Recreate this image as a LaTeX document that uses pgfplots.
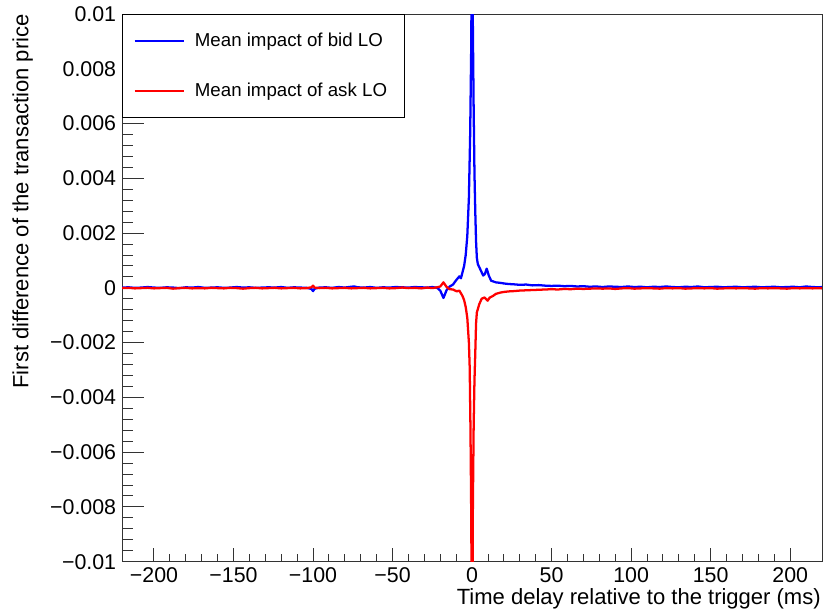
\documentclass[border=0pt]{standalone}
\usepackage{pgfplots}
\pgfplotsset{compat=1.18}
\usepackage{fontspec}
\setmainfont{Liberation Sans}

\begin{document}
\begin{tikzpicture}
\begin{axis}[
    scale only axis,
    width=524.25pt, height=410.25pt,
    xmin=-220, xmax=220,
    ymin=-0.01, ymax=0.01,
    xtick={-200,-150,-100,-50,0,50,100,150,200},
    xticklabels={−200,−150,−100,−50,0,50,100,150,200},
    ytick={-0.01,-0.008,-0.006,-0.004,-0.002,0,0.002,0.004,0.006,0.008,0.01},
    yticklabels={−0.01,−0.008,−0.006,−0.004,−0.002,0,0.002,0.004,0.006,0.008,0.01},
    scaled y ticks=false,
    minor x tick num=4,
    minor y tick num=4,
    tick align=inside,
    xtick pos=bottom, ytick pos=left,
    major tick length=16.5pt, minor tick length=8pt,
    xtick style={/pgfplots/major tick length=10.5pt, /pgfplots/minor tick length=6pt},
    axis line style={line width=0.7pt, black!80},
    every tick/.style={line width=0.7pt, black!80},
    tick label style={font=\fontsize{16}{19}\selectfont},
    /pgf/number format/assume math mode=true,
    xticklabel style={yshift=-1pt},
    yticklabel style={xshift=-1pt},
    xlabel={Time delay relative to the trigger (ms)},
    ylabel={First difference of the transaction price},
    xlabel style={at={(axis description cs:0.9986,-0.049)}, anchor=north east, inner sep=0pt, font=\fontsize{16.5}{19}\selectfont},
    ylabel style={at={(axis description cs:-0.157,1)}, anchor=north east, inner sep=0pt, font=\fontsize{16.5}{19}\selectfont},
    legend cell align=left,
    legend image code/.code={\draw[#1] (0pt,0pt) -- (36.75pt,0pt);},
    legend style={at={(0,1)}, anchor=north west, draw=black, line width=0.6pt, fill=white,
        inner xsep=8.25pt, inner ysep=14pt, row sep=26pt,
        font=\fontsize{14}{16}\selectfont,
        nodes={inner sep=0pt},
        /tikz/every odd column/.append style={column sep=7.5pt}},
    clip=true,
]

% --- bid LO ---
\addplot[blue, line width=1.7pt, line join=round] coordinates {
(-220,1e-5) (-216,2e-5) (-212,0) (-208,1e-5) (-204,3e-5) (-200,1e-5) (-196,0) (-192,2e-5)
(-188,1e-5) (-184,-1e-5) (-180,2e-5) (-176,1e-5) (-172,3e-5) (-168,0) (-164,1e-5) (-160,2e-5)
(-156,0) (-152,1e-5) (-148,3e-5) (-144,1e-5) (-140,2e-5) (-136,0) (-132,1e-5) (-128,2e-5)
(-124,1e-5) (-120,3e-5) (-116,0) (-112,2e-5) (-108,1e-5) (-104,0) (-101,-4e-5) (-100,-12e-5)
(-99,-3e-5) (-96,1e-5) (-92,2e-5) (-88,0) (-84,3e-5) (-80,1e-5) (-76,4e-5) (-74,5e-5)
(-72,2e-5) (-68,1e-5) (-64,3e-5) (-60,0) (-56,2e-5) (-52,1e-5) (-48,3e-5) (-44,2e-5)
(-40,1e-5) (-36,3e-5) (-32,2e-5) (-28,1e-5) (-25,3e-5) (-22,0) (-20,-10e-5) (-18,-37e-5)
(-16,-8e-5) (-14,5e-5) (-12,12e-5) (-10,28e-5) (-8,42e-5) (-7,35e-5) (-5,80e-5) (-4,0.0012)
(-3,0.0019) (-2,0.0033) (-1.2,0.0056) (-0.5,0.009) (0,0.015) (0.5,0.0095) (1,0.0065) (1.5,0.0042)
(2,0.0028) (2.5,0.0017) (3,0.0011) (3.6,87e-5) (5.6,62e-5) (7,45e-5) (8,50e-5) (9.2,70e-5)
(10.5,45e-5) (12,26e-5) (15,20e-5) (18,18e-5) (20,16e-5) (23,14e-5) (26,13e-5) (30,11e-5)
(34,12e-5) (38,9e-5) (42,10e-5) (46,8e-5) (50,7e-5) (54,8e-5) (58,6e-5) (62,7e-5)
(66,5e-5) (70,6e-5) (74,4e-5) (78,5e-5) (82,3e-5) (86,5e-5) (90,4e-5) (94,3e-5)
(98,5e-5) (102,3e-5) (106,4e-5) (110,2e-5) (114,4e-5) (118,3e-5) (122,5e-5) (126,3e-5)
(130,2e-5) (134,4e-5) (138,3e-5) (142,5e-5) (146,2e-5) (150,3e-5) (154,4e-5) (158,2e-5)
(162,3e-5) (166,4e-5) (170,2e-5) (174,3e-5) (178,4e-5) (182,2e-5) (186,3e-5) (190,4e-5)
(194,2e-5) (198,3e-5) (202,4e-5) (206,2e-5) (210,5e-5) (214,3e-5) (218,2e-5) (220,3e-5)
};
\addlegendentry{\makebox[149pt][l]{Mean impact of bid LO}}

% --- ask LO ---
\addplot[red, line width=1.7pt, line join=round] coordinates {
(-220,-1e-5) (-216,0) (-212,-2e-5) (-208,-1e-5) (-204,0) (-200,-2e-5) (-196,-1e-5) (-192,0)
(-188,-3e-5) (-184,-1e-5) (-180,0) (-176,-2e-5) (-172,-1e-5) (-168,-2e-5) (-164,0) (-160,-1e-5)
(-156,-2e-5) (-152,0) (-148,-1e-5) (-144,-3e-5) (-140,-1e-5) (-136,0) (-132,-2e-5) (-128,-1e-5)
(-124,0) (-120,-2e-5) (-116,-1e-5) (-112,0) (-108,-2e-5) (-104,-1e-5) (-101,2e-5) (-100,8e-5)
(-99,1e-5) (-96,-1e-5) (-92,0) (-88,-2e-5) (-84,-1e-5) (-80,0) (-76,-2e-5) (-72,-1e-5)
(-68,0) (-64,-2e-5) (-60,-1e-5) (-56,0) (-52,-2e-5) (-48,-1e-5) (-44,1e-5) (-40,-1e-5)
(-36,0) (-32,-2e-5) (-28,1e-5) (-25,-1e-5) (-22,2e-5) (-20,5e-5) (-18,20e-5) (-16,3e-5)
(-14,-5e-5) (-12,-6e-5) (-10,-12e-5) (-9,-12e-5) (-8,-10e-5) (-7,-20e-5) (-6,-30e-5) (-5,-45e-5)
(-4,-70e-5) (-3,-0.0011) (-2,-0.002) (-1.5,-0.0029) (-1,-0.0052) (-0.5,-0.0085) (0,-0.015) (0.5,-0.008)
(1,-0.005) (1.5,-0.0034) (2,-0.0024) (2.5,-0.0013) (3,-90e-5) (4.5,-60e-5) (6,-40e-5) (7.8,-35e-5)
(9.8,-47e-5) (11,-36e-5) (13,-30e-5) (15,-22e-5) (18,-17e-5) (20,-15e-5) (23,-13e-5) (26,-12e-5)
(30,-10e-5) (34,-9e-5) (38,-8e-5) (42,-7e-5) (46,-6e-5) (50,-5e-5) (54,-6e-5) (58,-4e-5)
(62,-5e-5) (66,-3e-5) (70,-4e-5) (74,-3e-5) (78,-2e-5) (82,-3e-5) (86,-2e-5) (90,-4e-5)
(94,-2e-5) (98,-1e-5) (102,-3e-5) (106,-2e-5) (110,-1e-5) (114,-2e-5) (118,-3e-5) (122,-1e-5)
(126,-2e-5) (130,-1e-5) (134,-3e-5) (138,-2e-5) (142,-1e-5) (146,-2e-5) (150,-1e-5) (154,-3e-5)
(158,-2e-5) (162,-1e-5) (166,-2e-5) (170,-1e-5) (174,-2e-5) (178,-3e-5) (182,-1e-5) (186,-2e-5)
(190,-1e-5) (194,-2e-5) (198,-3e-5) (202,-1e-5) (206,-2e-5) (210,-1e-5) (214,-2e-5) (218,-1e-5)
(220,-2e-5)
};
\addlegendentry{\makebox[147pt][l]{Mean impact of ask LO}}

\end{axis}
\pgfresetboundingbox
\path[use as bounding box] ([xshift=-91.5pt,yshift=-39pt]current axis.south west)
    rectangle ([xshift=0.75pt,yshift=10.5pt]current axis.north east);
\end{tikzpicture}
\end{document}
